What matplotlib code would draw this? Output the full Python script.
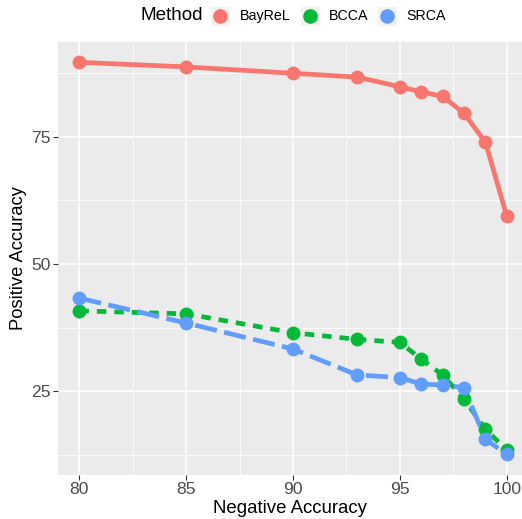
import matplotlib
matplotlib.use('Agg')
from matplotlib import pyplot as plt
from matplotlib.lines import Line2D
from matplotlib.patches import Rectangle

plt.rcParams['font.family'] = ['Liberation Sans', 'DejaVu Sans']

neg_acc = [80, 85, 90, 93, 95, 96, 97, 98, 99, 100]
bayrel = [89.6, 88.7, 87.45, 86.7, 84.8, 83.8, 82.9, 79.6, 73.9, 59.4]
bcca = [40.8, 40.2, 36.5, 35.2, 34.6, 31.3, 28.2, 23.5, 17.5, 13.5]
srca = [43.3, 38.4, 33.3, 28.2, 27.7, 26.4, 26.25, 25.7, 15.6, 12.6]

methods = ['BayReL', 'BCCA', 'SRCA']
series = {'BayReL': bayrel, 'BCCA': bcca, 'SRCA': srca}
colors = {'BayReL': '#F8766D', 'BCCA': '#00BA38', 'SRCA': '#619CFF'}
styles = {'BayReL': '-', 'BCCA': (0, (2.0, 1.7)), 'SRCA': (0, (4.7, 1.6))}

W, H = 522, 519
fig = plt.figure(figsize=(W / 100, H / 100), dpi=100)
ax = fig.add_axes([58 / W, (H - 474.7) / H, (W - 58) / W, (474.7 - 41.7) / H])
ax.set_facecolor('#EBEBEB')
for s in ax.spines.values():
    s.set_visible(False)

# lines first, then points (like ggplot layers)
for m in methods:
    ax.plot(neg_acc, series[m], color=colors[m], lw=3.4, linestyle=styles[m],
            dash_capstyle='butt', zorder=3)
for m in methods:
    ax.plot(neg_acc, series[m], 'o', color=colors[m], ms=10, mec='none', zorder=4)

ax.set_xlim(79, 79 + (W - 58) / 21.37)
ax.set_ylim(8.62, 93.65)
ax.set_xticks([80, 85, 90, 95, 100])
ax.set_yticks([25, 50, 75])
ax.set_xticks([82.5, 87.5, 92.5, 97.5], minor=True)
ax.set_yticks([12.5, 37.5, 62.5, 87.5], minor=True)
ax.grid(which='major', color='white', lw=1.1)
ax.grid(which='minor', color='white', lw=0.55)
ax.set_axisbelow(True)
ax.tick_params(which='major', length=3.5, width=0.8, color='#333333',
               labelsize=12.6, labelcolor='#4D4D4D', pad=2)
ax.tick_params(which='minor', length=0)
ax.set_xlabel('Negative Accuracy', fontsize=13.4, labelpad=2)
ax.set_ylabel('Positive Accuracy', fontsize=13.2, labelpad=3)

# legend on top
fig.text(140 / W, 1 - 16 / H, 'Method', fontsize=13.6, va='center', ha='left')
keys = [(211, 240), (301, 329), (378, 406)]
for m, (kx, tx) in zip(methods, keys):
    fig.add_artist(Rectangle((kx / W, 1 - 25.5 / H), 18.5 / W, 18.5 / H,
                             transform=fig.transFigure, color='#F2F2F2', lw=0))
    fig.add_artist(Line2D([(kx + 9.25) / W], [1 - 16.3 / H], marker='o', ms=10.5,
                          color=colors[m], mec='none', transform=fig.transFigure))
    fig.text(tx / W, 1 - 16 / H, m, fontsize=10.3, va='center', ha='left')

fig.savefig('out.png', dpi=100)
